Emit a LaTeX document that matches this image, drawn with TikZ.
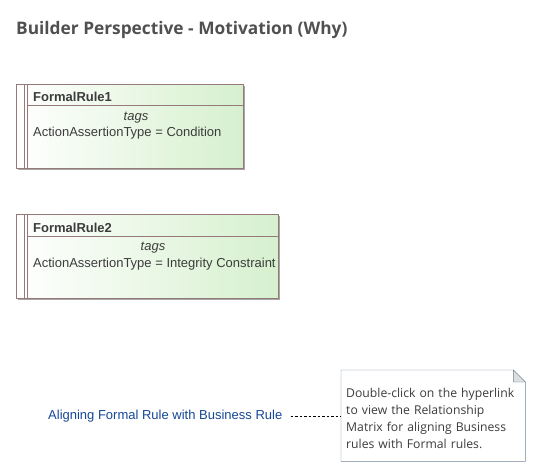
\documentclass[tikz,border=0pt]{standalone}
\usepackage{fontspec}
\setmainfont{Liberation Sans}
\newfontfamily\notefont{Open Sans}
\usetikzlibrary{shadows,positioning,backgrounds}
\definecolor{TitleGray}{RGB}{80, 80, 80}
\definecolor{RuleBorder}{RGB}{150, 122, 122}
\definecolor{RuleGreen}{RGB}{214, 240, 206}
\definecolor{RuleText}{RGB}{60, 60, 60}
\definecolor{LinkBlue}{RGB}{22, 70, 150}
\definecolor{NoteBorder}{RGB}{110, 130, 150}
\definecolor{FoldGray}{RGB}{222, 222, 222}

\tikzset{
  rulebox/.style={draw=RuleBorder, left color=white, right color=RuleGreen,
    anchor=north west, inner sep=0pt,
    drop shadow={shadow xshift=2pt, shadow yshift=-2pt, fill=black!35, opacity=1}},
  rail/.style={draw=RuleBorder},
  ruletitle/.style={anchor=west, inner sep=0pt, text=RuleText, font=\fontsize{13}{15}\selectfont\bfseries},
  ruletext/.style={anchor=west, inner sep=0pt, text=RuleText, font=\fontsize{13}{15}\selectfont},
  notebox/.style={anchor=north west, inner sep=5pt, text width=174pt, minimum height=86pt,
    align=left, text=RuleText, font=\notefont\fontsize{12.2}{17}\selectfont},
  notelink/.style={dash pattern=on 2.5pt off 2pt, thin, black}
}

\begin{document}
\begin{tikzpicture}[x=1pt, y=-1pt]
    \useasboundingbox (0,0) rectangle (534,470);

    % Title
    \node[anchor=west, inner sep=0pt, text=TitleGray, font=\notefont\fontsize{17.3}{20}\selectfont\bfseries]
      (title) at (16,30) {Builder Perspective - Motivation (Why)};

    % FormalRule1
    \node[rulebox, minimum width=227pt, minimum height=84pt] (rule1) at (16,84) {};
    \draw[rail] ([xshift=8pt]rule1.north west) -- ([xshift=8pt]rule1.south west);
    \draw[rail] ([xshift=11pt]rule1.north west) -- ([xshift=11pt]rule1.south west);
    \draw[rail] ([xshift=11pt, yshift=-21pt]rule1.north west) -- ([yshift=-21pt]rule1.north east);
    \node[ruletitle] (rule1name) at (33,97) {FormalRule1};
    \node[ruletext, anchor=center] (rule1tags) at (136,118) {\itshape tags};
    \node[ruletext] (rule1type) at (33,133) {ActionAssertionType = Condition};

    % FormalRule2
    \node[rulebox, minimum width=262pt, minimum height=84pt] (rule2) at (16,214) {};
    \draw[rail] ([xshift=8pt]rule2.north west) -- ([xshift=8pt]rule2.south west);
    \draw[rail] ([xshift=11pt]rule2.north west) -- ([xshift=11pt]rule2.south west);
    \draw[rail] ([xshift=11pt, yshift=-22pt]rule2.north west) -- ([yshift=-22pt]rule2.north east);
    \node[ruletitle] (rule2name) at (33,228) {FormalRule2};
    \node[ruletext, anchor=center] (rule2tags) at (153,248) {\itshape tags};
    \node[ruletext] (rule2type) at (33,264) {ActionAssertionType = Integrity Constraint};

    % Hyperlink and note
    \node[anchor=west, inner sep=0pt, text=LinkBlue, font=\fontsize{13}{15}\selectfont]
      (matrixlink) at (48,416) {Aligning Formal Rule with Business Rule};
    \node[notebox] (note) at (341,375) {Double-click on the hyperlink\\ to view the Relationship\\ Matrix for aligning Business\\ rules with Formal rules.};
    \begin{scope}[on background layer]
      \draw[NoteBorder, fill=white] ([yshift=5pt]note.north west) -- ([xshift=-12pt, yshift=5pt]note.north east)
        -- ([yshift=-7pt]note.north east) -- (note.south east) -- (note.south west) -- cycle;
      \draw[NoteBorder, fill=FoldGray] ([xshift=-12pt, yshift=5pt]note.north east) -- ([xshift=-12pt, yshift=-7pt]note.north east)
        -- ([yshift=-7pt]note.north east) -- cycle;
    \end{scope}
    \draw[notelink] ([xshift=8pt]matrixlink.east) -- (matrixlink.east -| note.west);
\end{tikzpicture}
\end{document}
